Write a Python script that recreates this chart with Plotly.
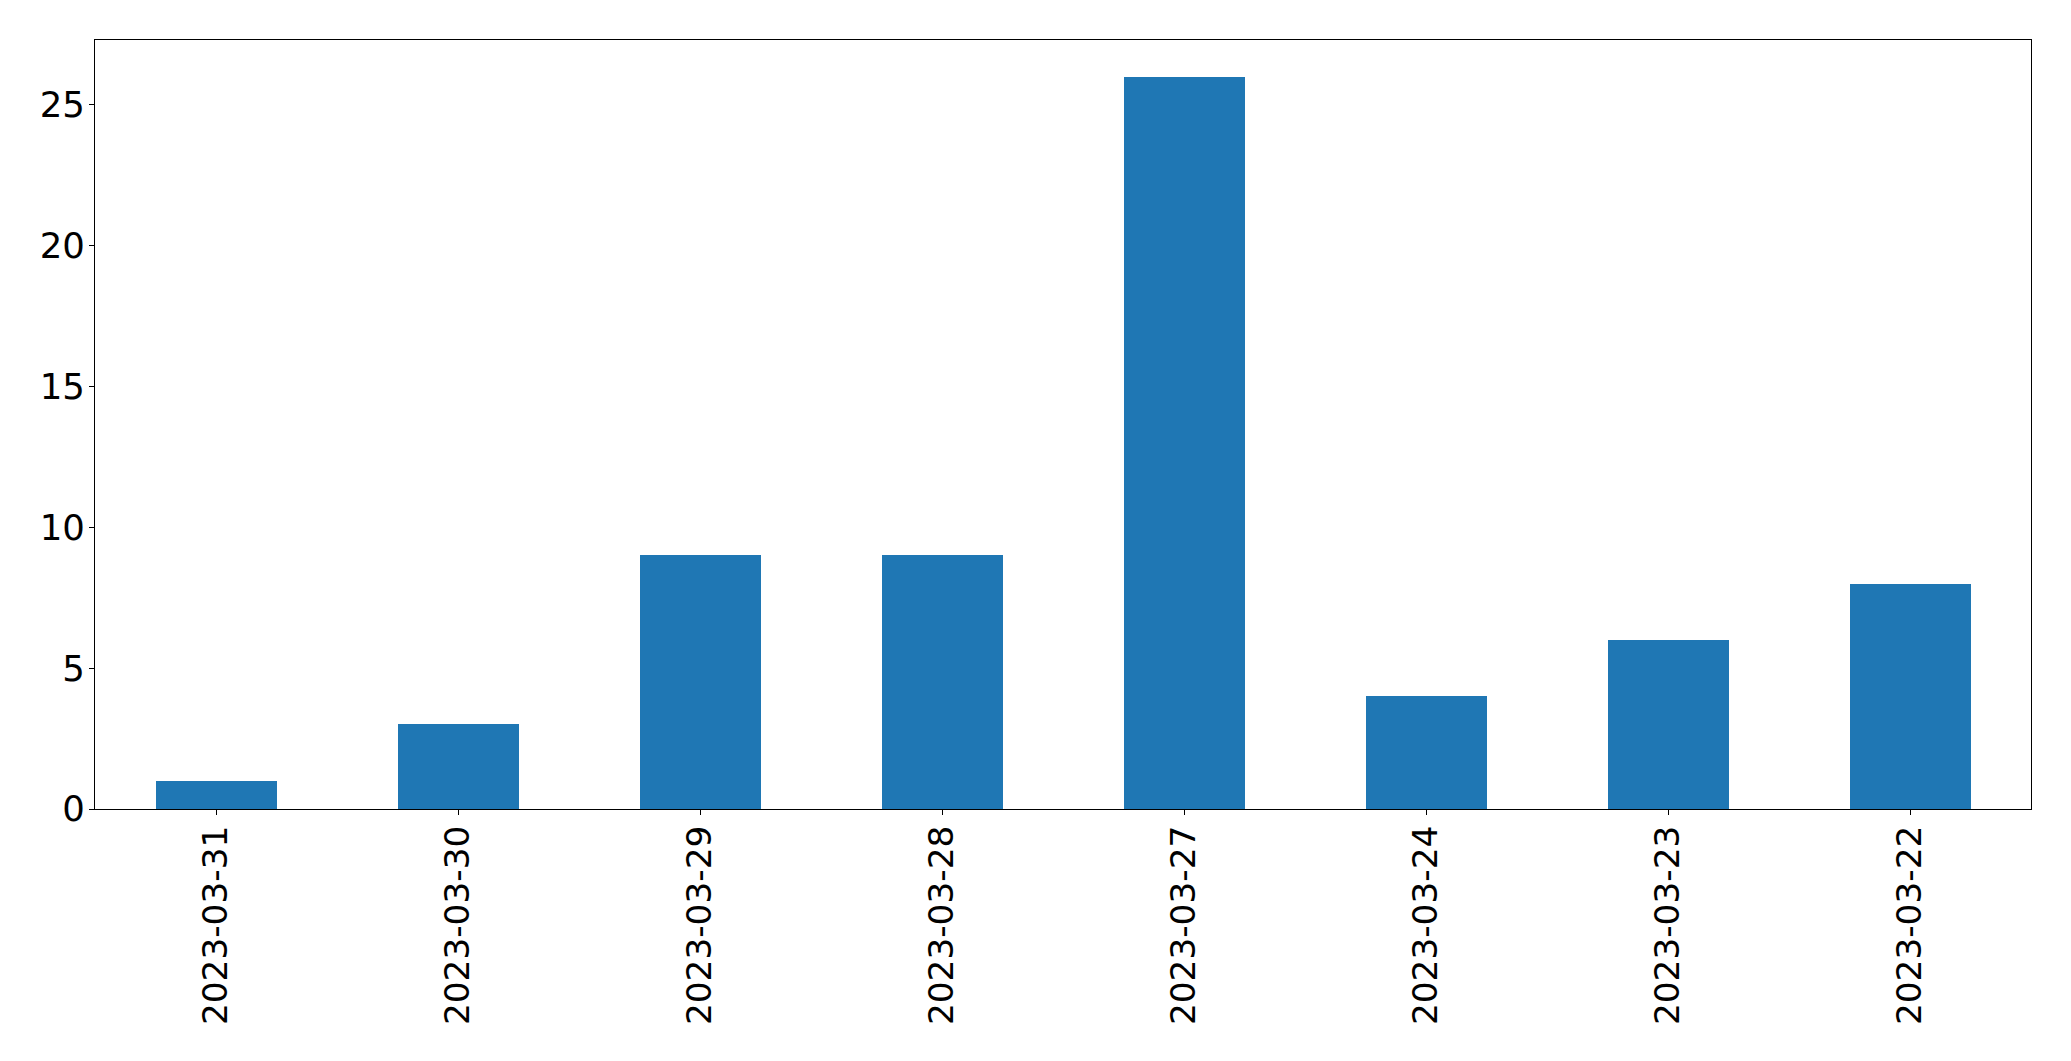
import plotly.graph_objects as go

dates = ["2023-03-31", "2023-03-30", "2023-03-29", "2023-03-28",
         "2023-03-27", "2023-03-24", "2023-03-23", "2023-03-22"]
counts = [1, 3, 9, 9, 26, 4, 6, 8]
y_ticks = [0, 5, 10, 15, 20, 25]

fig = go.Figure(go.Bar(x=dates, y=counts, width=0.5, marker_color="#1f77b4",
                       marker_line_width=0))

# page body has an 8px margin, so the figure is shrunk and offset accordingly
fig.update_layout(
    width=2063, height=1053,
    margin=dict(l=86.5, r=39.5, t=31.5, b=252, autoexpand=False),
    plot_bgcolor="white", paper_bgcolor="white",
    font=dict(family="DejaVu Sans", size=34.3, color="black"),
    showlegend=False,
    bargap=0,
)
fig.update_xaxes(type="category", range=[-0.5, 7.5], tickangle=-90,
                 showline=True, linecolor="black", linewidth=1, mirror=True,
                 ticks="outside", ticklen=5, tickcolor="black", showgrid=False,
                 ticklabelstandoff=-3, tickfont=dict(size=34.3))
fig.update_yaxes(range=[0, 27.3], tickvals=y_ticks,
                 showline=True, linecolor="black", linewidth=1, mirror=True,
                 ticks="outside", ticklen=5, tickcolor="black", showgrid=False,
                 ticklabelstandoff=-3, zeroline=False, tickfont=dict(size=35.5))

fig.write_html("out.html")
